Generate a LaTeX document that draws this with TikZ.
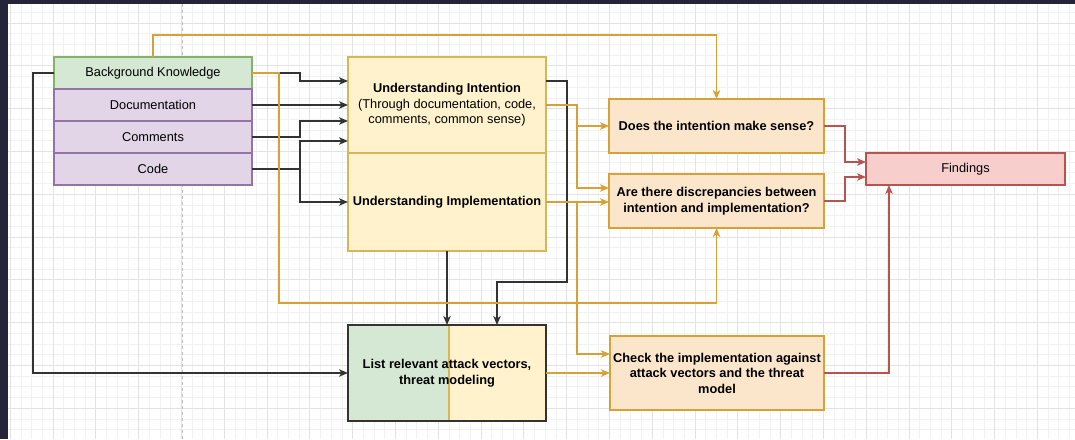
\documentclass[tikz,border=0pt]{standalone}
\usepackage{fontspec}
\setmainfont{Liberation Sans}
\usepackage{xcolor}
\usetikzlibrary{arrows.meta}

\definecolor{fondo}{HTML}{25253A}
\definecolor{verdeF}{HTML}{D5E8D4}
\definecolor{verdeB}{HTML}{82B366}
\definecolor{moradoF}{HTML}{E1D5E7}
\definecolor{moradoB}{HTML}{9673A6}
\definecolor{amarF}{HTML}{FFF2CC}
\definecolor{amarB}{HTML}{D6B656}
\definecolor{naranF}{HTML}{FCE6CB}
\definecolor{naranB}{HTML}{D6A238}
\definecolor{rojoF}{HTML}{F8CECC}
\definecolor{rojoB}{HTML}{B85450}
\definecolor{gris}{HTML}{333333}

\begin{document}
\begin{tikzpicture}[x=1pt,y=-1pt,
    caja/.style={draw,line width=1.3pt,inner sep=0pt,outer sep=0pt,align=center,
        text=black,font=\fontsize{12.8}{15.5}\selectfont},
    negra/.style={draw=gris,line width=1.4pt,-{Stealth[length=9pt,width=7.5pt,inset=2.5pt]}},
    dorada/.style={draw=naranB,line width=1.4pt,-{Stealth[length=9pt,width=7.5pt,inset=2.5pt]}},
    roja/.style={draw=rojoB,line width=1.4pt,-{Stealth[length=9pt,width=7.5pt,inset=2.5pt]}}]
    \useasboundingbox (0,0) rectangle (1075,439);

    % Fondo y rejilla
    \fill[fondo] (0,0) rectangle (1075,439);
    \fill[white] (8,4) rectangle (1075,439);
    \begin{scope}
        \clip (8,4) rectangle (1075,439);
        \foreach \i in {0,...,100} {
            \draw[black!5,line width=0.8pt] ({10.2+10.7*\i},4) -- ({10.2+10.7*\i},439);
        }
        \foreach \i in {0,...,41} {
            \draw[black!5,line width=0.8pt] (8,{1.6+10.7*\i}) -- (1075,{1.6+10.7*\i});
        }
        \foreach \i in {0,...,25} {
            \draw[black!11,line width=0.9pt] ({10.2+42.8*\i},4) -- ({10.2+42.8*\i},439);
        }
        \foreach \i in {0,...,9} {
            \draw[black!11,line width=0.9pt] (8,{23+42.8*\i}) -- (1075,{23+42.8*\i});
        }
    \end{scope}
    \draw[black!25,dashed,line width=1pt] (182,4) -- (182,439);

    % Entradas
    \node[caja,draw=verdeB,fill=verdeF,minimum width=198pt,minimum height=32pt] (bk) at (153,73) {Background Knowledge};
    \node[caja,draw=moradoB,fill=moradoF,minimum width=198pt,minimum height=32pt] (doc) at (153,105) {Documentation};
    \node[caja,draw=moradoB,fill=moradoF,minimum width=198pt,minimum height=32pt] (com) at (153,137) {Comments};
    \node[caja,draw=moradoB,fill=moradoF,minimum width=198pt,minimum height=32pt] (code) at (153,169) {Code};

    % Comprension
    \node[caja,draw=amarB,fill=amarF,minimum width=198pt,minimum height=96pt] (intent) at (447,105)
        {\textbf{Understanding Intention}\\(Through documentation, code,\\comments, common sense)};
    \node[caja,draw=amarB,fill=amarF,minimum width=198pt,minimum height=98pt] (impl) at (447,202)
        {\textbf{Understanding Implementation}};
    \node[caja,draw=gris,minimum width=198pt,minimum height=96pt,
        path picture={
            \fill[verdeF] (path picture bounding box.south west) rectangle ([xshift=2pt]path picture bounding box.north);
            \fill[amarF] ([xshift=2pt]path picture bounding box.south) rectangle (path picture bounding box.north east);
            \draw[amarB,line width=1.3pt] ([xshift=2pt]path picture bounding box.south) -- ([xshift=2pt]path picture bounding box.north);
        }] (list) at (447,373)
        {\textbf{List relevant attack vectors,}\\\textbf{threat modeling}};

    % Comprobaciones
    \node[caja,draw=naranB,fill=naranF,minimum width=215pt,minimum height=54pt] (does) at (716.5,126)
        {\textbf{Does the intention make sense?}};
    \node[caja,draw=naranB,fill=naranF,minimum width=215pt,minimum height=54pt] (disc) at (716.5,201)
        {\textbf{Are there discrepancies between}\\\textbf{intention and implementation?}};
    \node[caja,draw=naranB,fill=naranF,minimum width=214pt,minimum height=74pt] (check) at (717,373)
        {\textbf{Check the implementation against}\\\textbf{attack vectors and the threat}\\\textbf{model}};
    \node[caja,draw=rojoB,fill=rojoF,minimum width=199pt,minimum height=32pt] (find) at (965.5,169) {Findings};

    % Flechas negras
    \draw[negra] (bk.east) -- ++(48,0) |- ([yshift=24pt]intent.west);
    \draw[negra] (doc.east) -- (intent.west);
    \draw[negra] (com.east) -- ++(48,0) |- ([yshift=-16pt]intent.west);
    \draw[negra] (code.east) -- ++(48,0) |- ([yshift=-36pt]intent.west);
    \draw[negra] (code.east) -- ++(48,0) |- (impl.west);
    \draw[negra] (bk.west) -- ++(-21,0) |- (list.west);
    \draw[negra] ([yshift=24pt]intent.east) -- ++(21,0) -- ++(0,201) -| ([xshift=50pt]list.north);
    \draw[negra] (impl.south) -- (list.north);

    % Flechas doradas
    \draw[dorada] (bk.north) -- ++(0,-22) -| (does.north);
    \draw[dorada] (bk.east) -- ++(27,0) -- ++(0,230) -| (disc.south);
    \draw[dorada] (intent.east) -- ++(31,0) |- (does.west);
    \draw[dorada] (intent.east) -- ++(31,0) |- ([yshift=13pt]disc.west);
    \draw[dorada] (impl.east) -- (impl.east -| disc.west);
    \draw[dorada] (impl.east) -- ++(31,0) |- ([yshift=19pt]check.west);
    \draw[dorada] (list.east) -- (check.west);

    % Flechas rojas
    \draw[roja] (does.east) -- ++(21,0) |- ([yshift=7pt]find.west);
    \draw[roja] (disc.east) -- ++(21,0) |- ([yshift=-8pt]find.west);
    \draw[roja] (check.east) -| ([xshift=-76.5pt]find.south);

\end{tikzpicture}
\end{document}
